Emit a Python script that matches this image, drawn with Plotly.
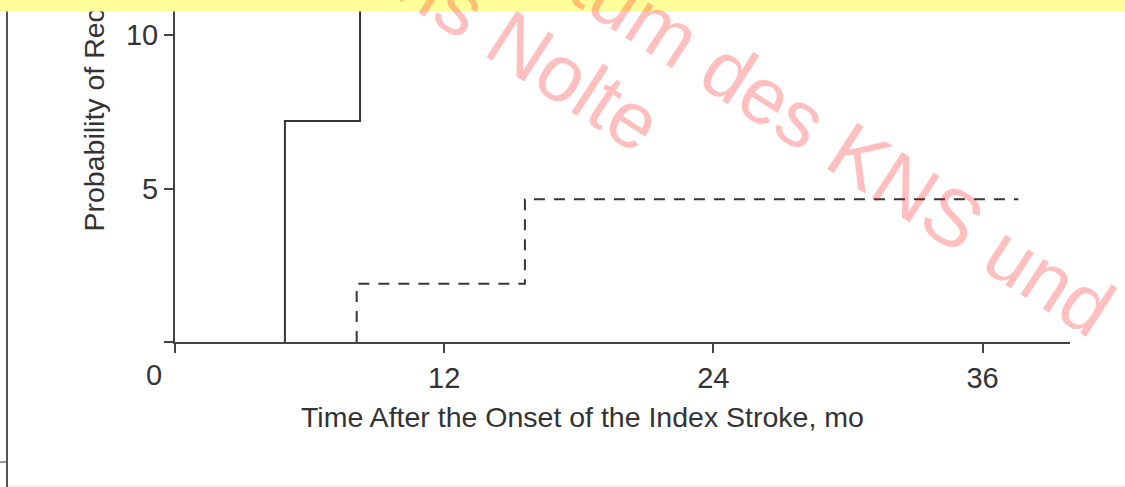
import plotly.graph_objects as go

# step curves (months, %); each starts at its first event
solid_months = [4.9, 4.9, 8.25]
solid_prob = [0, 7.2, 12.5]  # last step runs off the top of the crop
dashed_months = [8.1, 8.1, 15.6, 37.6]
dashed_prob = [0, 1.9, 4.65, 4.65]

x_ticks = [0, 12, 24, 36]
y_ticks = [0, 5, 10]

W, H = 1125, 487
L, R, T, B = 175, 55, 0, 145
PW, PH = W - L - R, H - T - B


def px_x(px):
    return (px - L) / PW


def px_y(py):
    return (H - B - py) / PH


TXT = "#333333"
FONT = "Arial, Liberation Sans, sans-serif"
AX = dict(showgrid=False, zeroline=False, showline=True, linecolor="#444444",
          linewidth=2, ticks="outside", ticklen=9, tickwidth=2, tickcolor="#444444",
          tickfont=dict(family=FONT, size=29, color=TXT))

fig = go.Figure()
fig.add_trace(go.Scatter(x=solid_months, y=solid_prob, mode="lines", line_shape="hv",
                         line=dict(color="#363636", width=2)))
fig.add_trace(go.Scatter(x=dashed_months, y=dashed_prob, mode="lines", line_shape="hv",
                         line=dict(color="#363636", width=2, dash="11px,9px")))

fig.update_xaxes(AX, range=[0, 39.9], tickvals=x_ticks,
                 ticktext=[str(v) if v else "" for v in x_ticks])
fig.update_yaxes(AX, range=[0, 11.14], tickvals=y_ticks,
                 ticktext=[str(v) if v else "" for v in y_ticks])

WM = dict(family=FONT, size=80, color="rgba(255,0,0,0.25)")
annotations = [
    # y title, cut off by the top of the crop
    dict(text="Probability of Recurrence, %", textangle=-90, x=px_x(93), y=px_y(234),
         xanchor="center", yanchor="bottom", font=dict(family=FONT, size=28.5, color=TXT)),
    dict(text="Time After the Onset of the Index Stroke, mo", x=px_x(582), y=px_y(417),
         xanchor="center", yanchor="middle", font=dict(family=FONT, size=28.5, color=TXT)),
    dict(text="0", x=px_x(154), y=px_y(375), xanchor="center", yanchor="middle",
         font=dict(family=FONT, size=29, color=TXT)),
    # yellow band over the top
    dict(text=" ", x=px_x(W / 2), y=px_y(5.5), xanchor="center", yanchor="middle",
         width=W + 10, height=11, bgcolor="#FFFE99", borderpad=0, font=dict(size=1)),
    # watermark
    dict(text="Eigentum des KNS und", textangle=33, x=px_x(757), y=px_y(90),
         xanchor="center", yanchor="middle", font=WM),
    dict(text="Hans Nolte", textangle=33, x=px_x(487), y=px_y(24),
         xanchor="center", yanchor="middle", font=WM),
]
for a in annotations:
    a.update(xref="paper", yref="paper", showarrow=False)

frame = [
    dict(x0=px_x(7), x1=px_x(7), y0=px_y(0), y1=px_y(H), line=dict(color="#555555", width=2)),
    dict(x0=px_x(0), x1=px_x(6), y0=px_y(462), y1=px_y(462), line=dict(color="#999999", width=2)),
    dict(x0=px_x(8), x1=px_x(W), y0=px_y(486), y1=px_y(486), line=dict(color="#e2e2e2", width=1)),
]
for s in frame:
    s.update(type="line", xref="paper", yref="paper")

fig.update_layout(width=W, height=H, margin=dict(l=L, r=R, t=T, b=B, autoexpand=False),
                  paper_bgcolor="white", plot_bgcolor="white", showlegend=False,
                  annotations=annotations, shapes=frame)

# drop the default 8px page margin so the figure sits at the window's corner
fig.write_html("out.html", config={"displayModeBar": False},
               post_script="document.body.style.margin = '0';")
